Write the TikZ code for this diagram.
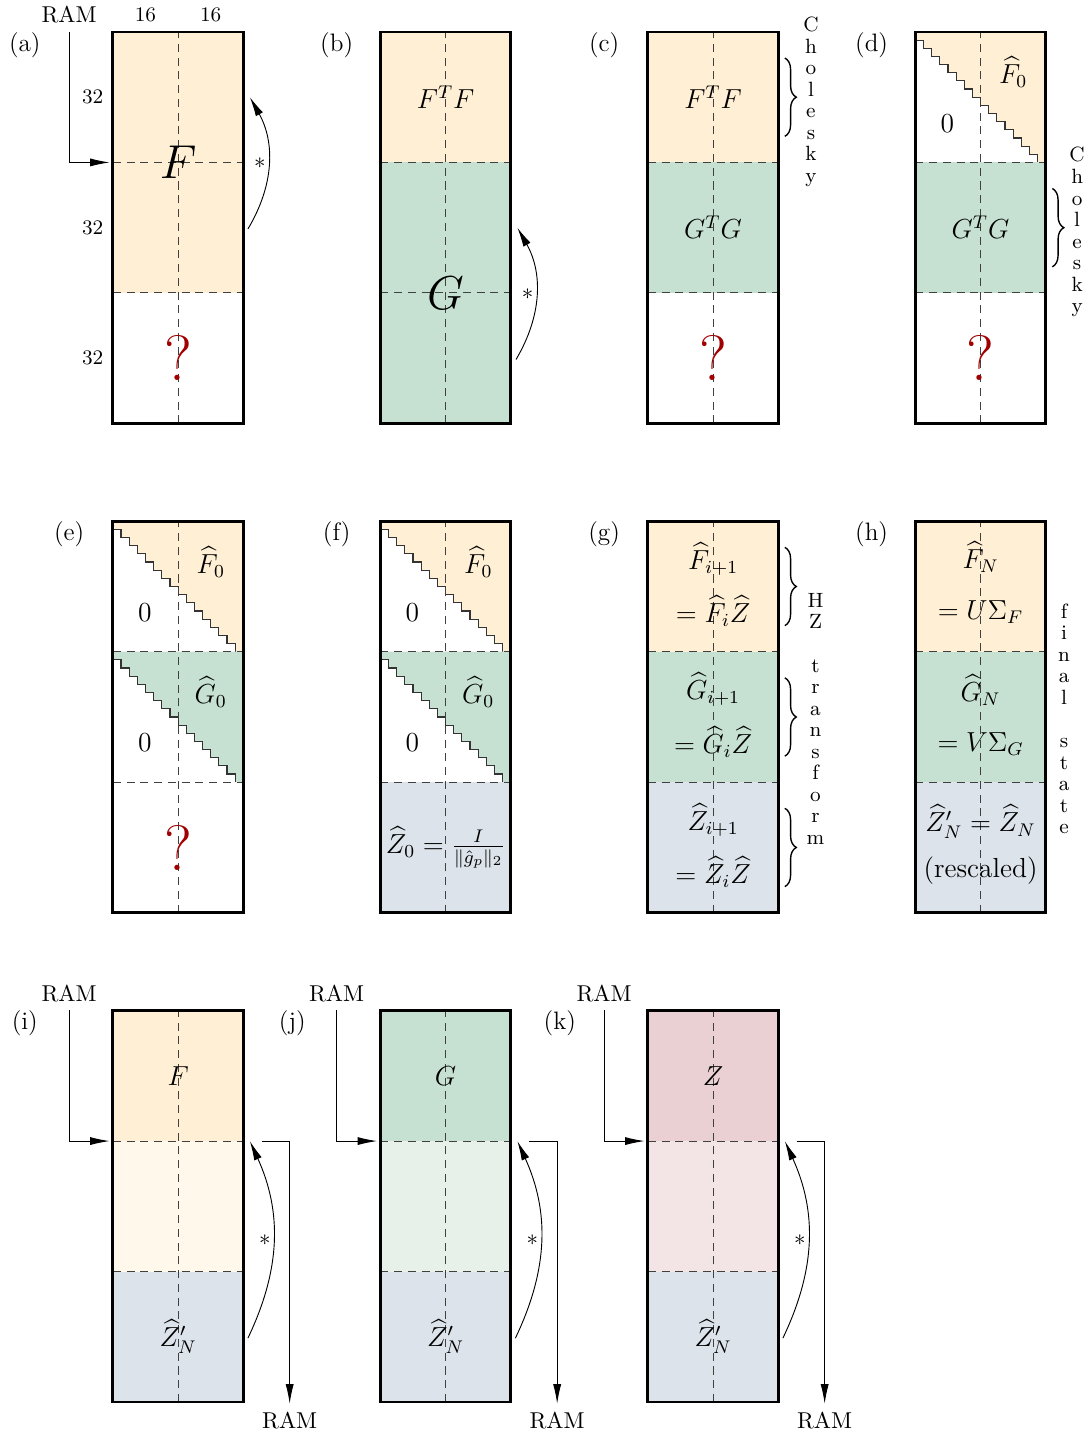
\documentclass[tikz,border=0pt]{standalone}
\usepackage{amsmath}
\usepackage{amssymb}
\usepackage{tikz}
\usetikzlibrary{positioning, arrows.meta, decorations.pathreplacing}

\definecolor{forange}{RGB}{255,240,213}
\definecolor{fgreen}{RGB}{198,225,209}
\definecolor{fblue}{RGB}{220,227,234}
\definecolor{fpink}{RGB}{234,208,210}
\definecolor{fltorange}{RGB}{255,248,235}
\definecolor{fltgreen}{RGB}{231,241,234}
\definecolor{fltpink}{RGB}{243,228,229}
\definecolor{qred}{RGB}{160,0,0}

% dashed grid and thick border of one 32x96 panel
\newcommand{\panelframe}{%
  \draw[divline] (0,2) -- (2,2) (0,4) -- (2,4) (1,0) -- (1,6);
  \draw[frame] (0,0) rectangle (2,6);}

% upper triangular block (staircase) with its bottom at #1
\newcommand{\stairfill}[2]{%
  \fill[#2] (0,#1+2) -- (0,#1+1.875)
    \foreach \k in {1,...,15}{ -- ++(0.125,0) -- ++(0,-0.125)} -- (2,#1) -- (2,#1+2) -- cycle;
  \draw[stair] (0,#1+1.875)
    \foreach \k in {1,...,15}{ -- ++(0.125,0) -- ++(0,-0.125)};}

\begin{document}
\begin{tikzpicture}[
    frame/.style={line width=1.2pt},
    divline/.style={black!75, thin, dash pattern=on 3.5pt off 2.5pt},
    stair/.style={black!80, line width=0.5pt},
    tag/.style={font=\fontsize{11}{13}\selectfont},
    dimlabel/.style={font=\small},
    mlabel/.style={font=\large, align=center},
    bigsym/.style={font=\huge},
    qmark/.style={font=\fontsize{28}{30}\selectfont, text=qred},
    vtext/.style={font=\fontsize{9}{9.4}\selectfont, align=center},
    flow/.style={-{Latex[length=8.5pt,width=3.5pt]}, thin},
    brc/.style={decorate, decoration={brace, amplitude=5pt}, line width=0.6pt}
]
\useasboundingbox (0,0) rectangle (16.69,21.98);

% (a) load F
\begin{scope}[shift={(1.73,15.49)}]
  \fill[forange] (0,2) rectangle (2,6);
  \panelframe
  \node[tag] (taga) at (-1.35,5.8) {(a)};
  \node (ramina) at (-0.67,6.26) {RAM};
  \coordinate (ina) at (-0.05,4);
  \draw[flow] (ramina.south) |- (ina);
  \node[dimlabel] (cola1) at (0.5,6.26) {16};
  \node[dimlabel] (cola2) at (1.5,6.26) {16};
  \foreach \r/\y in {1/5,2/3,3/1}
    \node[dimlabel] (rowa\r) at (-0.31,\y) {32};
  \node[bigsym] (fa) at (1,4) {$F$};
  \node[qmark] (qa) at (1,1) {?};
  \coordinate (sa1) at (2.07,2.98);
  \coordinate (sa2) at (2.1,5);
  \draw[flow] (sa1) to[bend right=30] node[left, inner sep=1pt] (stara) {$*$} (sa2);
\end{scope}

% (b)
\begin{scope}[shift={(5.83,15.49)}]
  \fill[forange] (0,4) rectangle (2,6);
  \fill[fgreen] (0,0) rectangle (2,4);
  \panelframe
  \node[tag] (tagb) at (-0.67,5.8) {(b)};
  \node[mlabel] (ftfb) at (1,5) {$F^T F$};
  \node[bigsym] (gb) at (1,2) {$G$};
  \coordinate (sb1) at (2.08,0.98);
  \coordinate (sb2) at (2.1,3);
  \draw[flow] (sb1) to[bend right=30] node[left, inner sep=1pt] (starb) {$*$} (sb2);
\end{scope}

% (c)
\begin{scope}[shift={(9.93,15.49)}]
  \fill[forange] (0,4) rectangle (2,6);
  \fill[fgreen] (0,2) rectangle (2,4);
  \panelframe
  \node[tag] (tagc) at (-0.67,5.8) {(c)};
  \node[mlabel] (ftfc) at (1,5) {$F^T F$};
  \node[mlabel] (gtgc) at (1,3) {$G^T G$};
  \node[qmark] (qc) at (1,1) {?};
  \draw[brc] (2.1,5.6) -- (2.1,4.4);
  \node[vtext] (cholc) at (2.5,4.93) {C\\h\\o\\l\\e\\s\\k\\y};
\end{scope}

% (d)
\begin{scope}[shift={(14.03,15.49)}]
  \fill[fgreen] (0,2) rectangle (2,4);
  \stairfill{4}{forange}
  \panelframe
  \node[tag] (tagd) at (-0.67,5.8) {(d)};
  \node[mlabel] (fd) at (1.5,5.39) {$\widehat{F}_0$};
  \node[mlabel] (zerod) at (0.49,4.59) {$0$};
  \node[mlabel] (gtgd) at (1,3) {$G^T G$};
  \node[qmark] (qd) at (1,1) {?};
  \draw[brc] (2.1,3.6) -- (2.1,2.4);
  \node[vtext] (chold) at (2.48,2.93) {C\\h\\o\\l\\e\\s\\k\\y};
\end{scope}

% (e)
\begin{scope}[shift={(1.73,7.99)}]
  \stairfill{4}{forange}
  \stairfill{2}{fgreen}
  \panelframe
  \node[tag] (tage) at (-0.67,5.8) {(e)};
  \node[mlabel] (fe) at (1.5,5.38) {$\widehat{F}_0$};
  \node[mlabel] (zeroe1) at (0.49,4.6) {$0$};
  \node[mlabel] (ge) at (1.5,3.38) {$\widehat{G}_0$};
  \node[mlabel] (zeroe2) at (0.49,2.6) {$0$};
  \node[qmark] (qe) at (1,1) {?};
\end{scope}

% (f)
\begin{scope}[shift={(5.83,7.99)}]
  \fill[fblue] (0,0) rectangle (2,2);
  \stairfill{4}{forange}
  \stairfill{2}{fgreen}
  \panelframe
  \node[tag] (tagf) at (-0.67,5.8) {(f)};
  \node[mlabel] (ff) at (1.5,5.38) {$\widehat{F}_0$};
  \node[mlabel] (zerof1) at (0.49,4.6) {$0$};
  \node[mlabel] (gf) at (1.5,3.38) {$\widehat{G}_0$};
  \node[mlabel] (zerof2) at (0.49,2.6) {$0$};
  \node[mlabel] (zf) at (1,1) {$\widehat{Z}_0 = \frac{I}{\|\hat{g}_p\|_2}$};
\end{scope}

% (g)
\begin{scope}[shift={(9.93,7.99)}]
  \fill[forange] (0,4) rectangle (2,6);
  \fill[fgreen] (0,2) rectangle (2,4);
  \fill[fblue] (0,0) rectangle (2,2);
  \panelframe
  \node[tag] (tagg) at (-0.67,5.8) {(g)};
  \node[mlabel] (fg) at (1,5.03) {$\widehat{F}_{i+1}$\\[8pt]$= \widehat{F}_i\widehat{Z}$};
  \node[mlabel] (gg) at (1,3.03) {$\widehat{G}_{i+1}$\\[8pt]$= \widehat{G}_i\widehat{Z}$};
  \node[mlabel] (zg) at (1,1.03) {$\widehat{Z}_{i+1}$\\[8pt]$= \widehat{Z}_i\widehat{Z}$};
  \foreach \y in {5,3,1}
    \draw[brc] (2.1,\y+0.6) -- (2.1,\y-0.6);
  \node[vtext] (hzg) at (2.57,2.97) {H\\Z\\[9.4pt]t\\r\\a\\n\\s\\f\\o\\r\\m};
\end{scope}

% (h)
\begin{scope}[shift={(14.03,7.99)}]
  \fill[forange] (0,4) rectangle (2,6);
  \fill[fgreen] (0,2) rectangle (2,4);
  \fill[fblue] (0,0) rectangle (2,2);
  \panelframe
  \node[tag] (tagh) at (-0.67,5.8) {(h)};
  \node[mlabel] (fh) at (1,5.06) {$\widehat{F}_N$\\[8pt]$= U\Sigma_F$};
  \node[mlabel] (gh) at (1,3.03) {$\widehat{G}_N$\\[8pt]$= V\Sigma_G$};
  \node[mlabel] (zh) at (1,1.04) {$\widehat{Z}'_N = \widehat{Z}_N$\\[6pt](rescaled)};
  \node[vtext] (finh) at (2.28,2.97) {f\\i\\n\\a\\l\\[9.4pt]s\\t\\a\\t\\e};
\end{scope}

% (i), (j), (k) stream back to RAM
\foreach \p/\x/\top/\mid/\sym in {i/1.73/forange/fltorange/F, j/5.83/fgreen/fltgreen/G, k/9.93/fpink/fltpink/Z}{
  \begin{scope}[shift={(\x,0.49)}]
    \fill[\top] (0,4) rectangle (2,6);
    \fill[\mid] (0,2) rectangle (2,4);
    \fill[fblue] (0,0) rectangle (2,2);
    \panelframe
    \node[tag] (tag\p) at (-1.35,5.8) {(\p)};
    \node (ramin\p) at (-0.67,6.26) {RAM};
    \coordinate (in\p) at (-0.05,4);
    \draw[flow] (ramin\p.south) |- (in\p);
    \node[mlabel] (m\p) at (1,5) {$\sym$};
    \node[mlabel] (z\p) at (1,1) {$\widehat{Z}'_N$};
    \coordinate (s\p1) at (2.07,0.98);
    \coordinate (s\p2) at (2.1,4);
    \draw[flow] (s\p1) to[bend right=25] node[left, inner sep=1pt] (star\p) {$*$} (s\p2);
    \coordinate (out\p) at (2.28,4);
    \node (ramout\p) at (2.71,-0.28) {RAM};
    \draw[flow] (out\p) -| (ramout\p.north);
  \end{scope}
}

\end{tikzpicture}
\end{document}
